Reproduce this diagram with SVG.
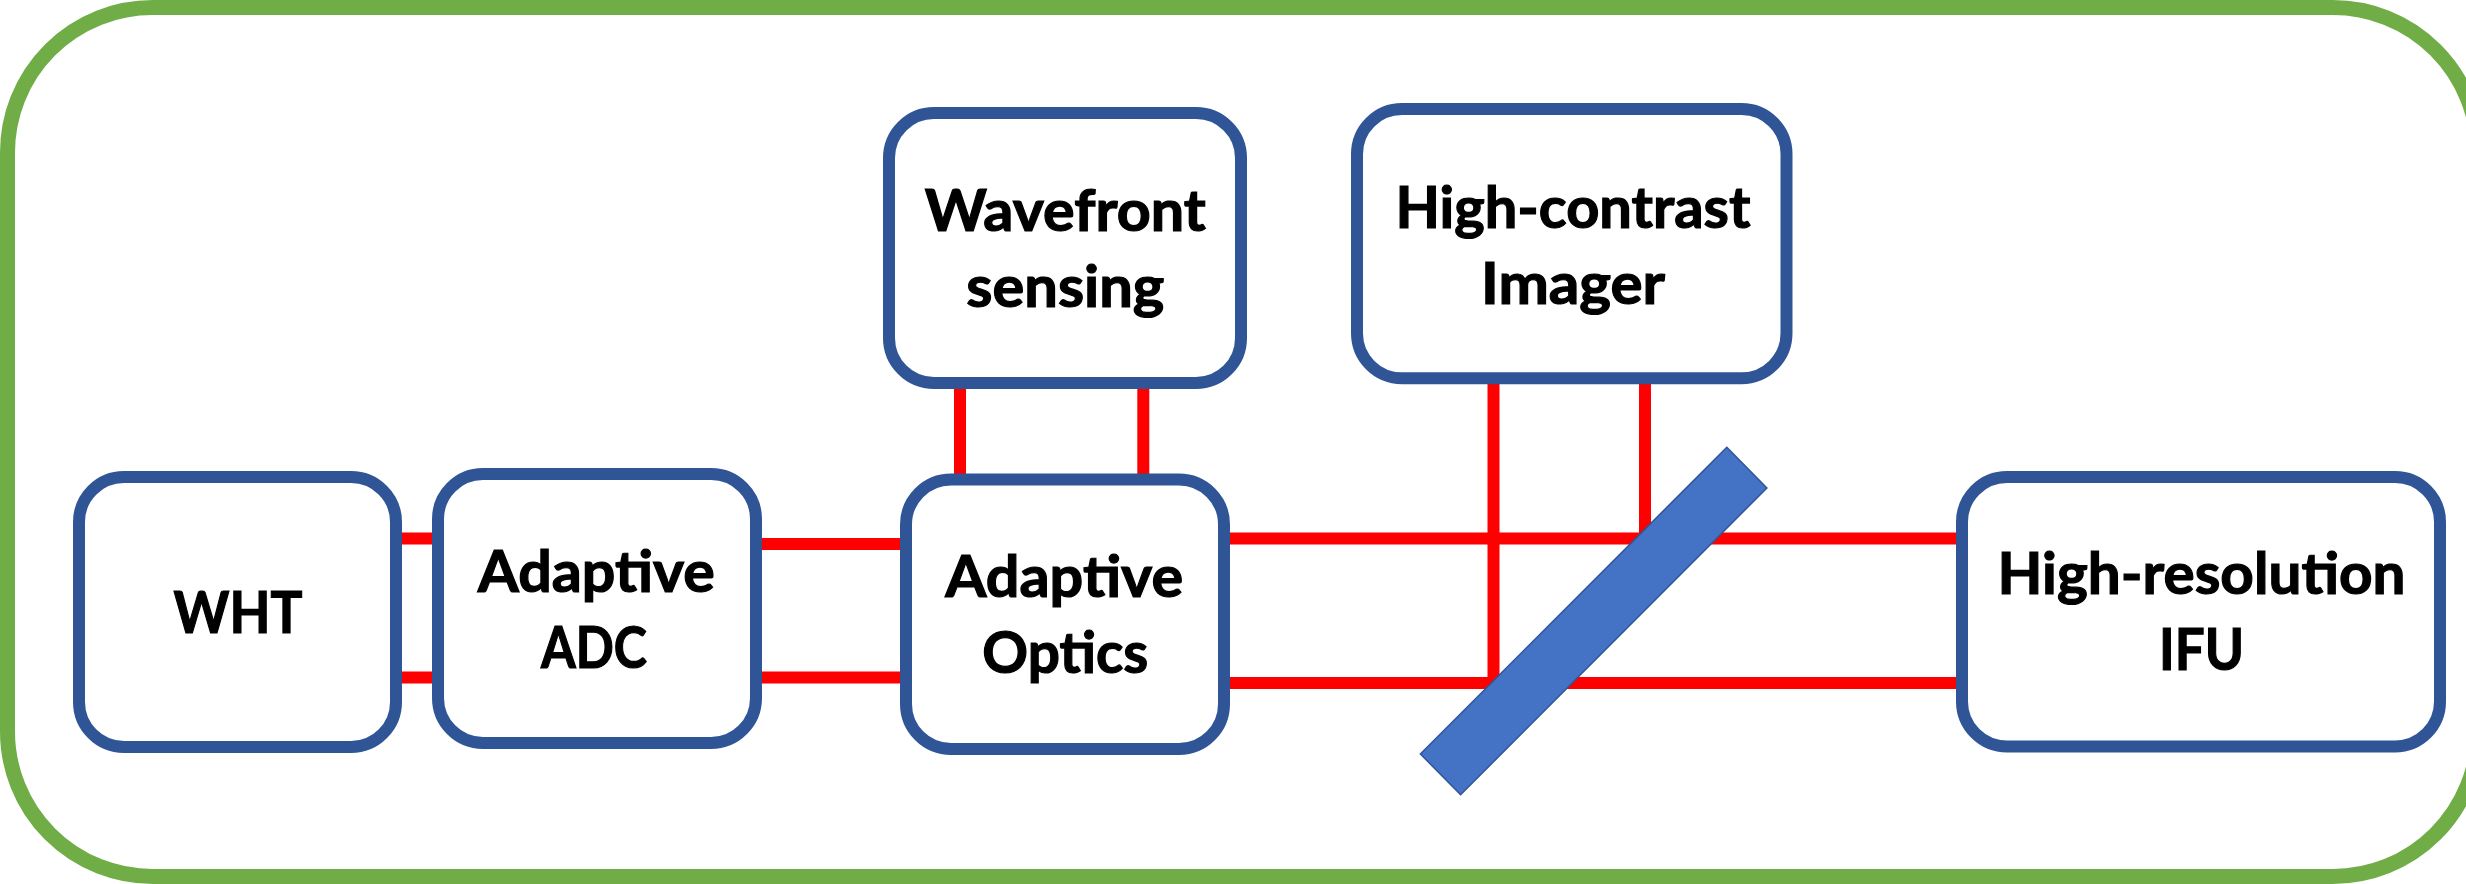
<svg xmlns="http://www.w3.org/2000/svg" width="2466" height="884" viewBox="0 0 2466 884">
<style>
.frame{fill:none;stroke:#70AD47;stroke-width:15}
.box{fill:#FFFFFF;stroke:#2F5597;stroke-width:12}
.beam{stroke:#FF0000;stroke-width:12;fill:none}
.lbl{font-family:Lato,"Open Sans","Liberation Sans",sans-serif;font-weight:700;font-size:58px;fill:#000000;stroke:#000000;stroke-width:1.2;text-anchor:middle}
.bs{fill:#4472C4;stroke:#2F5597;stroke-width:1.5}
</style>
<rect x="0" y="0" width="2466" height="884" fill="#FFFFFF"/>
<rect class="frame" x="7.5" y="7.5" width="2470.5" height="869" rx="145" ry="145"/>
<g id="connectors">
<line class="beam" x1="390" y1="538.5" x2="444" y2="538.5"/>
<line class="beam" x1="390" y1="677.5" x2="444" y2="677.5"/>
<line class="beam" x1="750" y1="544" x2="912" y2="544"/>
<line class="beam" x1="750" y1="677.5" x2="912" y2="677.5"/>
<line class="beam" x1="1218" y1="538.5" x2="1968" y2="538.5"/>
<line class="beam" x1="1218" y1="683" x2="1968" y2="683"/>
<line class="beam" x1="960" y1="377" x2="960" y2="485"/>
<line class="beam" x1="1143.3" y1="377" x2="1143.3" y2="485"/>
<line class="beam" x1="1493.5" y1="372" x2="1493.5" y2="683"/>
<line class="beam" x1="1645" y1="372" x2="1645" y2="538.5"/>
</g>
<g id="wht">
<rect class="box" x="79" y="477" width="317" height="270" rx="45" ry="45"/>
<text class="lbl" x="238" y="633" textLength="129" lengthAdjust="spacingAndGlyphs">WHT</text>
</g>
<g id="adc">
<rect class="box" x="438" y="474" width="318" height="269" rx="45" ry="45"/>
<text class="lbl" x="596.3" y="591.5" textLength="237" lengthAdjust="spacingAndGlyphs">Adaptive</text>
<text class="lbl" x="594" y="668" textLength="106" lengthAdjust="spacingAndGlyphs">ADC</text>
</g>
<g id="ao">
<rect class="box" x="906" y="479.5" width="318" height="269.5" rx="45" ry="45"/>
<text class="lbl" x="1064.2" y="597" textLength="238" lengthAdjust="spacingAndGlyphs">Adaptive</text>
<text class="lbl" x="1065.3" y="673" textLength="166" lengthAdjust="spacingAndGlyphs">Optics</text>
</g>
<g id="wfs">
<rect class="box" x="889" y="113" width="352" height="270" rx="45" ry="45"/>
<text class="lbl" x="1065.2" y="230.8" textLength="281" lengthAdjust="spacingAndGlyphs">Wavefront</text>
<text class="lbl" x="1065.3" y="307" textLength="198" lengthAdjust="spacingAndGlyphs">sensing</text>
</g>
<g id="hci">
<rect class="box" x="1357" y="109" width="429.5" height="269.3" rx="45" ry="45"/>
<text class="lbl" x="1572.9" y="227.5" textLength="355" lengthAdjust="spacingAndGlyphs">High-contrast</text>
<text class="lbl" x="1573" y="303.5" textLength="184" lengthAdjust="spacingAndGlyphs">Imager</text>
</g>
<g id="ifu">
<rect class="box" x="1962" y="477" width="478" height="269.5" rx="45" ry="45"/>
<text class="lbl" x="2201.5" y="594.3" textLength="408" lengthAdjust="spacingAndGlyphs">High-resolution</text>
<text class="lbl" x="2201.5" y="670.3" textLength="85" lengthAdjust="spacingAndGlyphs">IFU</text>
</g>
<g id="beamsplitter">
<polygon class="bs" points="1726.8,447.3 1766.9,488 1460.6,794.7 1420.4,754"/>
</g>
</svg>
